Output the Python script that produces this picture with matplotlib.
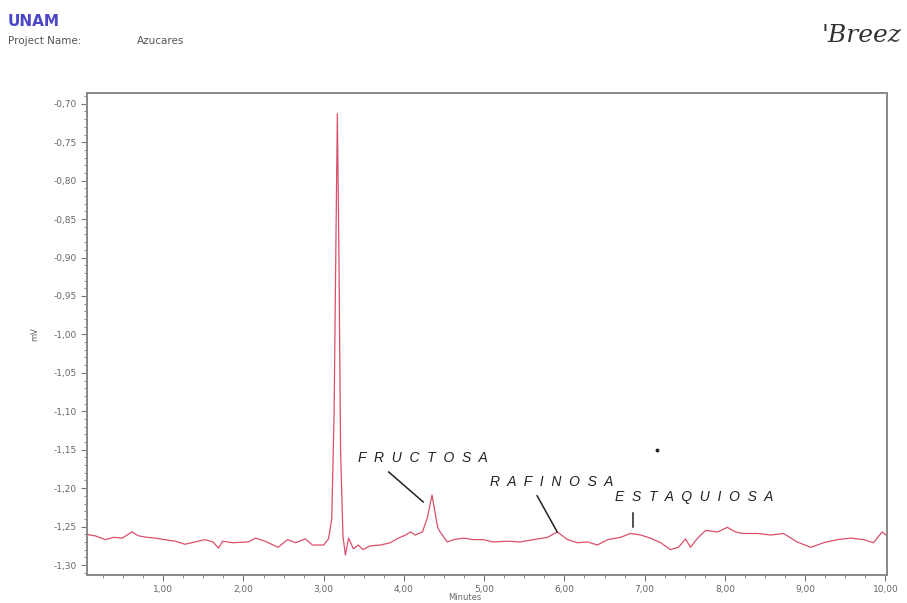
import matplotlib
matplotlib.use("Agg")
import matplotlib.pyplot as plt
from matplotlib.ticker import MultipleLocator, FuncFormatter

# ---- data ----
minutes = [0.03, 0.15, 0.28, 0.38, 0.49, 0.61, 0.69, 0.80, 0.90, 1.02,
           1.15, 1.27, 1.40, 1.52, 1.62, 1.69, 1.74, 1.86, 2.06, 2.15,
           2.27, 2.43, 2.55, 2.65, 2.77, 2.86, 3.00, 3.06, 3.10, 3.13,
           3.15, 3.17, 3.19, 3.21, 3.24, 3.27, 3.31, 3.37, 3.43, 3.49,
           3.58, 3.71, 3.83, 3.93, 4.02, 4.08, 4.14, 4.23, 4.29, 4.35,
           4.42, 4.45, 4.54, 4.62, 4.74, 4.87, 4.99, 5.11, 5.29, 5.45,
           5.61, 5.79, 5.91, 6.04, 6.16, 6.29, 6.41, 6.54, 6.70, 6.82,
           6.95, 7.07, 7.20, 7.32, 7.42, 7.51, 7.57, 7.66, 7.76, 7.91,
           8.03, 8.13, 8.23, 8.41, 8.57, 8.73, 8.90, 9.07, 9.23, 9.40,
           9.57, 9.73, 9.85, 9.96, 10.02]
mv = [-1.260, -1.262, -1.267, -1.264, -1.265, -1.257, -1.262, -1.264, -1.265, -1.267,
      -1.269, -1.273, -1.270, -1.267, -1.270, -1.278, -1.269, -1.271, -1.270, -1.265,
      -1.269, -1.277, -1.267, -1.271, -1.266, -1.274, -1.274, -1.266, -1.240, -1.100,
      -0.900, -0.713, -0.900, -1.150, -1.262, -1.287, -1.265, -1.279, -1.274, -1.280,
      -1.275, -1.274, -1.271, -1.265, -1.261, -1.257, -1.261, -1.257, -1.239, -1.209,
      -1.251, -1.257, -1.270, -1.267, -1.265, -1.267, -1.267, -1.270, -1.269, -1.270,
      -1.267, -1.264, -1.257, -1.267, -1.271, -1.270, -1.274, -1.267, -1.264, -1.259,
      -1.261, -1.265, -1.271, -1.280, -1.277, -1.266, -1.277, -1.265, -1.255, -1.257,
      -1.251, -1.257, -1.259, -1.259, -1.261, -1.259, -1.270, -1.277, -1.271, -1.267,
      -1.265, -1.267, -1.271, -1.257, -1.262]

x_ticks = [1, 2, 3, 4, 5, 6, 7, 8, 9, 10]
y_ticks = [-0.70, -0.75, -0.80, -0.85, -0.90, -0.95, -1.00, -1.05,
           -1.10, -1.15, -1.20, -1.25, -1.30]

peak_names = ["FRUCTOSA", "RAFINOSA", "ESTAQUIOSA"]
label_pos = [(4.23, -1.161), (5.84, -1.192), (7.62, -1.212)]
pointer_lines = [((3.81, 4.24), (-1.179, -1.218)),
                 ((5.66, 5.91), (-1.210, -1.257)),
                 ((6.85, 6.85), (-1.232, -1.251))]

W, H = 907, 603
fig = plt.figure(figsize=(W / 100, H / 100), dpi=100)
fig.patch.set_facecolor("white")

ax = fig.add_axes([87 / W, 1 - 575 / H, 800 / W, 482 / H])
ax.plot(minutes, mv, color="#d9506a", lw=0.9)

ax.set_xlim(0.05, 10.02)
ax.set_ylim(-1.313, -0.686)
ax.set_xticks(x_ticks)
ax.set_yticks(y_ticks)
ax.xaxis.set_minor_locator(MultipleLocator(0.25))
ax.yaxis.set_minor_locator(MultipleLocator(0.01))
ax.xaxis.set_major_formatter(FuncFormatter(lambda v, p: f"{v:.2f}".replace(".", ",")))
ax.yaxis.set_major_formatter(FuncFormatter(lambda v, p: f"{v:.2f}".replace(".", ",")))
ax.tick_params(axis="both", which="major", labelsize=6.5, labelcolor="#666666",
               color="#777777", length=4, width=0.8)
ax.tick_params(axis="both", which="minor", color="#777777", length=2.5, width=0.6)
for s in ax.spines.values():
    s.set_color("#888888")
    s.set_linewidth(1.4)

ax.set_ylabel("mV", fontsize=6, color="#666666", labelpad=10)
fig.text(465 / W, 1 - 598 / H, "Minutes", fontsize=6, color="#666666",
         ha="center", va="center")

for name, (tx, ty), (lx, ly) in zip(peak_names, label_pos, pointer_lines):
    ax.text(tx, ty, "  ".join(name),
            fontsize=10, style="italic", family="Liberation Sans",
            color="#222222", ha="center", va="center")
    ax.plot(lx, ly, color="#222222", lw=1.1)

ax.plot([7.15], [-1.150], marker="o", ms=1.8, color="#222222")

# header
fig.text(8 / W, 1 - 22 / H, "UNAM", fontsize=11, color="#4a46c8",
         fontweight="bold", va="center", ha="left")
fig.text(8 / W, 1 - 41 / H, "Project Name:", fontsize=7.5, color="#555555",
         va="center", ha="left")
fig.text(137 / W, 1 - 41 / H, "Azucares", fontsize=7.5, color="#555555",
         va="center", ha="left")
fig.text(822 / W, 1 - 35 / H, "'Breez", fontsize=18, color="#333333",
         style="italic", family="DejaVu Serif", va="center", ha="left")

fig.savefig("out.png", dpi=100)
